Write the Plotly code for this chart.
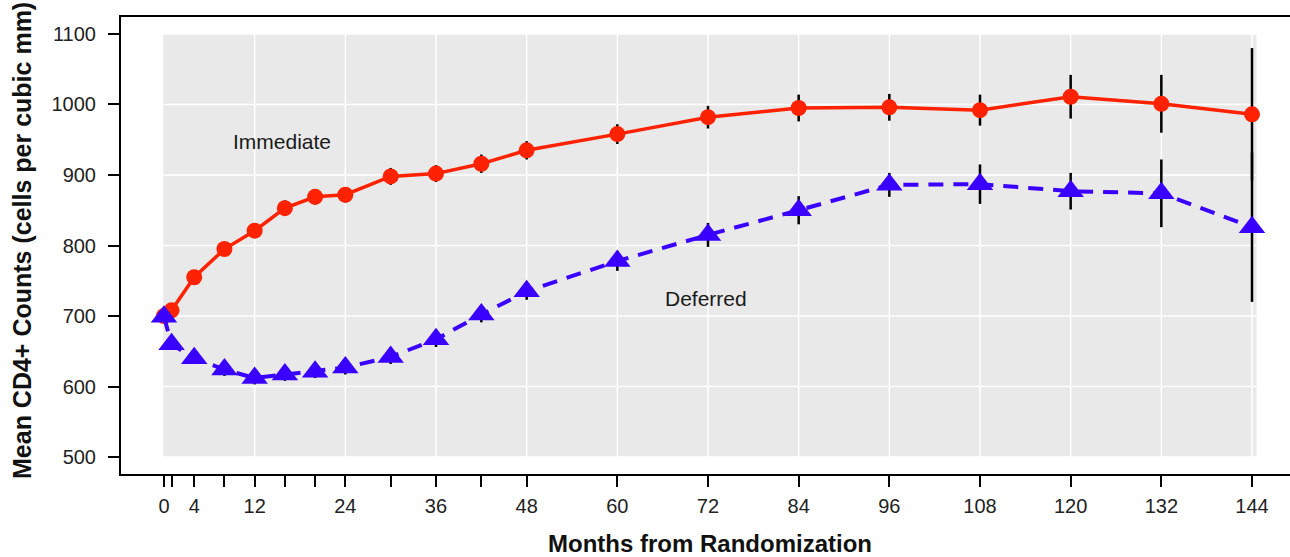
import plotly.graph_objects as go

# Follow-up visits (months from randomization)
months = [0, 1, 4, 8, 12, 16, 20, 24, 30, 36, 42, 48, 60, 72, 84, 96, 108, 120, 132, 144]

# Mean CD4+ counts and error half-widths per arm
immediate = [700, 708, 755, 795, 821, 853, 869, 872, 898, 902, 916, 935, 958, 982, 995, 996, 992, 1011, 1001, 986]
immediate_err = [0, 8, 9, 10, 10, 11, 11, 11, 12, 12, 13, 13, 14, 16, 19, 19, 22, 31, 41, 94]
deferred = [699, 660, 640, 624, 612, 617, 621, 627, 642, 667, 702, 735, 778, 815, 850, 886, 887, 877, 874, 826]
deferred_err = [0, 8, 8, 9, 9, 9, 9, 10, 10, 11, 11, 12, 14, 17, 20, 17, 28, 26, 48, 106]

# Axis ticks
x_ticks = months
x_tick_text = ["0", "", "4", "", "12", "", "", "24", "", "36", "", "48",
               "60", "72", "84", "96", "108", "120", "132", "144"]
y_ticks = [500, 600, 700, 800, 900, 1000, 1100]
x_grid = [12, 24, 36, 48, 60, 72, 84, 96, 108, 120, 132, 144]

RED = "#FF2200"
BLUE = "#3A00FF"
FONT = "Liberation Sans, Arial, sans-serif"

fig = go.Figure()

fig.add_trace(go.Scatter(
    x=months, y=immediate, mode="lines+markers", name="Immediate",
    line=dict(color=RED, width=3.5),
    marker=dict(symbol="circle", size=16, color=RED),
    error_y=dict(type="data", array=immediate_err, color="black", thickness=2.5, width=0),
))
fig.add_trace(go.Scatter(
    x=months, y=deferred, mode="lines+markers", name="Deferred",
    line=dict(color=BLUE, width=4, dash="15px,10px"),
    marker=dict(symbol="triangle-up", size=23, color=BLUE),
    error_y=dict(type="data", array=deferred_err, color="black", thickness=2.5, width=0),
))

# Grey panel with white grid, drawn beneath the data
shapes = [dict(type="rect", xref="x", yref="y", x0=-0.1, x1=144.6, y0=500, y1=1100,
               fillcolor="#E9E9E9", line=dict(width=0), layer="below")]
for gx in x_grid:
    shapes.append(dict(type="line", xref="x", yref="y", x0=gx, x1=gx, y0=500, y1=1100,
                       line=dict(color="white", width=1.5), layer="below"))
for gy in y_ticks:
    shapes.append(dict(type="line", xref="x", yref="y", x0=-0.1, x1=144.6, y0=gy, y1=gy,
                       line=dict(color="white", width=1.5), layer="below"))

annotations = [
    dict(x=15.6, y=947, xref="x", yref="y", text="Immediate", showarrow=False,
         font=dict(family=FONT, size=21, color="#1a1a1a")),
    dict(x=71.7, y=725, xref="x", yref="y", text="Deferred", showarrow=False,
         font=dict(family=FONT, size=21, color="#1a1a1a")),
    dict(x=710, y=543, xref="paper", yref="paper", text="<b>Months from Randomization</b>",
         showarrow=False, font=dict(family=FONT, size=24, color="#111")),
    dict(x=22, y=241, xref="paper", yref="paper", text="<b>Mean CD4+ Counts (cells per cubic mm)</b>",
         showarrow=False, textangle=-90, font=dict(family=FONT, size=25, color="#111")),
]

# Title annotations are given in pixel terms; convert to paper coordinates
W, H = 1290, 557
ML, MR, MT, MB = 121, 0, 17, 83
pw, ph = W - ML - MR, H - MT - MB
for a in annotations[2:]:
    a["x"] = (a["x"] - ML) / pw
    a["y"] = (H - MB - a["y"]) / ph
    a["xanchor"] = "center"
    a["yanchor"] = "middle"

fig.update_layout(
    width=W, height=H,
    margin=dict(l=ML, r=MR, t=MT, b=MB, pad=0),
    paper_bgcolor="white", plot_bgcolor="white",
    showlegend=False,
    shapes=shapes, annotations=annotations,
    font=dict(family=FONT, color="#222"),
)
fig.update_xaxes(
    range=[-5.69, 149.03], tickmode="array", tickvals=x_ticks, ticktext=x_tick_text,
    showgrid=False, zeroline=False,
    showline=True, mirror=True, linecolor="black", linewidth=2,
    ticks="outside", ticklen=11, tickwidth=2, tickcolor="black",
    tickfont=dict(family=FONT, size=20, color="#222"), ticklabelstandoff=2,
)
fig.update_yaxes(
    range=[475.9, 1124.1], tickmode="array", tickvals=y_ticks,
    showgrid=False, zeroline=False,
    showline=True, linecolor="black", linewidth=2,
    ticks="outside", ticklen=11, tickwidth=2, tickcolor="black",
    tickfont=dict(family=FONT, size=20, color="#222"), ticklabelstandoff=8,
)

fig.write_html("out.html")
